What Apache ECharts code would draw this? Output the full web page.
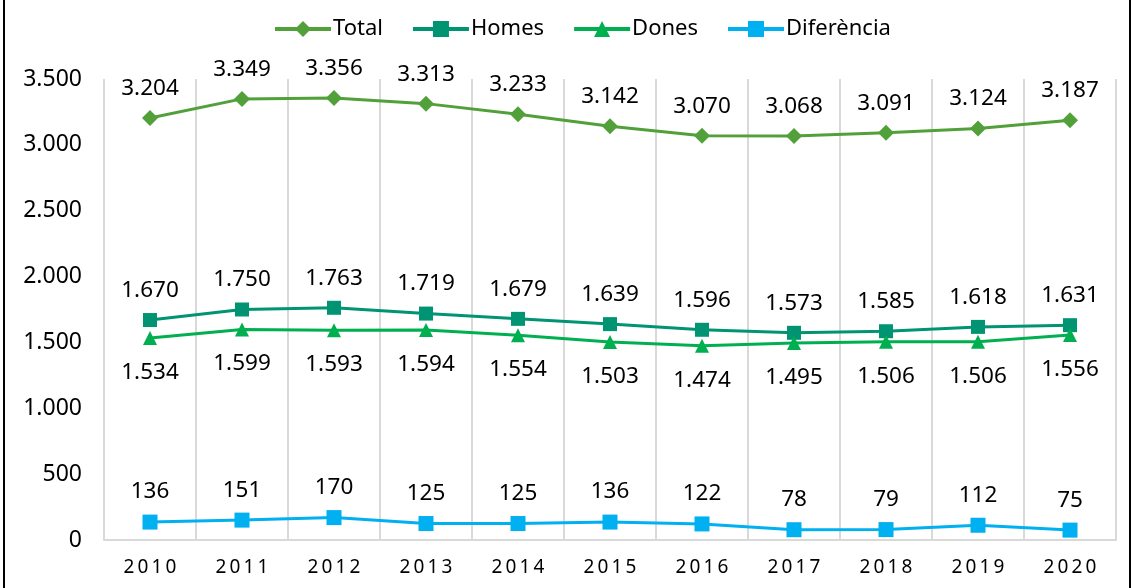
<!DOCTYPE html>
<html>
<head>
<meta charset="utf-8">
<script src="https://cdn.jsdelivr.net/npm/echarts@6/dist/echarts.min.js"></script>
<style>
  html, body { margin: 0; padding: 0; background: #fff; }
  #chart { width: 1132px; height: 588px; }
</style>
</head>
<body>
<div id="chart"></div>
<script>
// dades
const years = ['2010', '2011', '2012', '2013', '2014', '2015', '2016', '2017', '2018', '2019', '2020']
const total = [3204, 3349, 3356, 3313, 3233, 3142, 3070, 3068, 3091, 3124, 3187]
const homes = [1670, 1750, 1763, 1719, 1679, 1639, 1596, 1573, 1585, 1618, 1631]
const dones = [1534, 1599, 1593, 1594, 1554, 1503, 1474, 1495, 1506, 1506, 1556]
const diferencia = [136, 151, 170, 125, 125, 136, 122, 78, 79, 112, 75]

const FONT = 'Noto Sans'

// separador de milers amb punt
const fmt = v => String(v).replace(/\B(?=(\d{3})+(?!\d))/g, '.')

const chart = echarts.init(document.getElementById('chart'))

const mkSeries = (name, data, color, symbol, size, pos, dist) => ({
  name,
  type: 'line',
  data,
  symbol,
  symbolSize: size,
  lineStyle: { width: 3, color },
  itemStyle: { color },
  label: {
    show: true,
    position: pos,
    distance: dist,
    fontFamily: FONT,
    fontSize: 22.5,
    color: '#000',
    formatter: p => fmt(p.value)
  }
})

chart.setOption({
  animation: false,
  textStyle: { fontFamily: FONT },
  legend: {
    top: 13,
    left: 268,
    itemWidth: 56,
    itemHeight: 20,
    itemGap: 28,
    lineStyle: { width: 4 },
    textStyle: { fontSize: 22, color: '#000', fontFamily: FONT, padding: [0, 0, 0, -3] },
    data: ['Total', 'Homes', 'Dones', 'Diferència']
  },
  grid: { left: 104, right: 16, top: 79, bottom: 48 },
  xAxis: {
    type: 'category',
    data: years,
    boundaryGap: true,
    axisLine: { lineStyle: { color: '#d9d9d9', width: 2 } },
    axisTick: { show: false },
    splitLine: { show: true, lineStyle: { color: '#d9d9d9', width: 2 } },
    axisLabel: {
      color: '#000',
      fontSize: 19,
      fontFamily: FONT,
      margin: 18,
      formatter: v => v.split('').join('\u2009')
    }
  },
  yAxis: {
    type: 'value',
    min: 0,
    max: 3500,
    interval: 500,
    axisLine: { show: false },
    axisTick: { show: false },
    splitLine: { show: false },
    axisLabel: {
      color: '#000',
      fontSize: 23,
      fontFamily: FONT,
      margin: 22,
      formatter: v => fmt(v)
    }
  },
  graphic: [
    { type: 'rect', left: 3, top: 0, shape: { width: 2, height: 588 }, style: { fill: '#000' } },
    { type: 'rect', right: 1, top: 0, shape: { width: 2, height: 588 }, style: { fill: '#000' } }
  ],
  series: [
    mkSeries('Total', total, '#52a03a', 'diamond', 16, 'top', 10),
    mkSeries('Homes', homes, '#009473', 'rect', 14, 'top', 11),
    mkSeries('Dones', dones, '#00b050', 'triangle', 14, 'bottom', 16),
    mkSeries('Diferència', diferencia, '#00b0f0', 'rect', 15, 'top', 11)
  ]
})
</script>
</body>
</html>
